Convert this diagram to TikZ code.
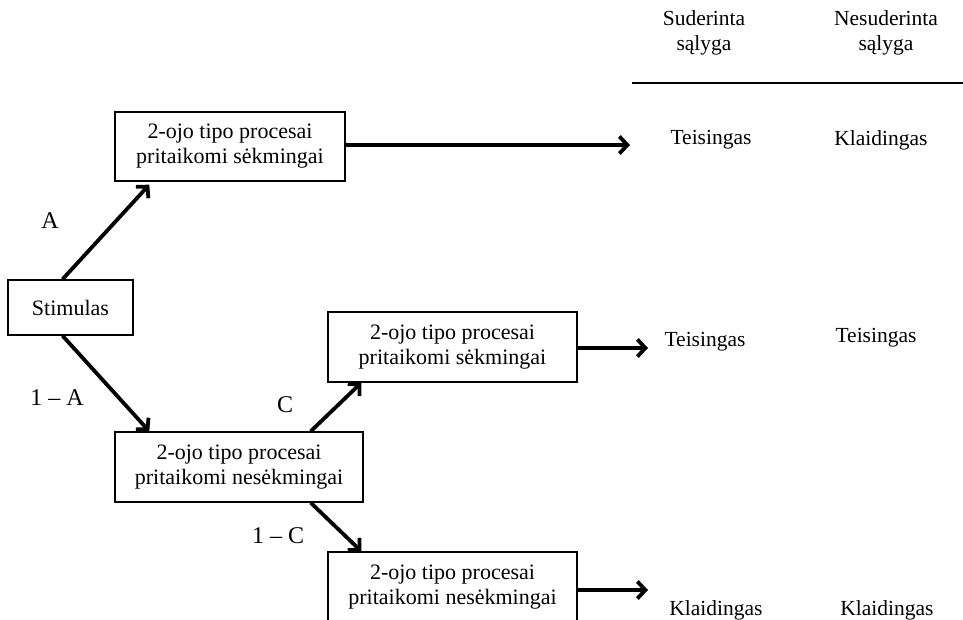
\documentclass[tikz,border=0pt]{standalone}
\usepackage{fontspec}
\setmainfont{Liberation Serif}
\usetikzlibrary{arrows.meta,calc}

\tikzset{
  procbox/.style={draw, line width=1.4pt, inner sep=0pt, align=center,
    font=\fontsize{22}{25}\selectfont},
  plain/.style={inner sep=0pt, align=center, font=\fontsize{21.5}{25}\selectfont},
  problabel/.style={inner sep=0pt, font=\fontsize{24}{26}\selectfont},
  flow/.style={line width=3.8pt, -{Straight Barb[length=8pt,width=17pt]}},
}

\begin{document}
\begin{tikzpicture}[x=1pt, y=-1pt]
  \clip (0,0) rectangle (963,620);
  \fill[white] (0,0) rectangle (963,620);

  % decision boxes
  \node[procbox, minimum width=125pt, minimum height=55pt] (stim) at (70.5,307.5) {Stimulas};
  \node[procbox, minimum width=230pt, minimum height=69pt] (ok1) at (230,146.5)
    {2-ojo tipo procesai\\pritaikomi sėkmingai};
  \node[procbox, minimum width=248pt, minimum height=70pt] (fail1) at (239,467)
    {2-ojo tipo procesai\\pritaikomi nesėkmingai};
  \node[procbox, minimum width=249pt, minimum height=70pt] (ok2) at (452.5,347)
    {2-ojo tipo procesai\\pritaikomi sėkmingai};
  \node[procbox, minimum width=249pt, minimum height=70pt] (fail2) at (452.5,587)
    {2-ojo tipo procesai\\pritaikomi nesėkmingai};

  % table of outcomes
  \node[plain] (hcong) at (704,33) {Suderinta\\sąlyga};
  \node[plain] (hincong) at (886,33) {Nesuderinta\\sąlyga};
  \coordinate (rulel) at (632,83);
  \coordinate (ruler) at (963,83);
  \draw[line width=1.6pt] (rulel) -- (ruler);

  \node[plain] (r1a) at (711,140) {Teisingas};
  \node[plain] (r1b) at (881,140) {Klaidingas};
  \node[plain] (r2a) at (705,342) {Teisingas};
  \node[plain] (r2b) at (876,338) {Teisingas};
  \node[plain] (r3a) at (716,610) {Klaidingas};
  \node[plain] (r3b) at (887,610) {Klaidingas};

  % branch probabilities
  \node[problabel] (pa) at (50,221) {A};
  \node[problabel] (pna) at (57,398) {1 – A};
  \node[problabel] (pc) at (285,405) {C};
  \node[problabel] (pnc) at (278,536) {1 – C};

  % arrow end points
  \coordinate (e1) at (630,145);
  \coordinate (e2) at (648,348);
  \coordinate (e3) at (648,590);

  % connectors
  \draw[flow] ($(stim.north)+(-8,0)$) -- ($(ok1.south west)+(35,3)$);
  \draw[flow] ($(stim.south)+(-8,0)$) -- ($(fail1.north west)+(35,0)$);
  \draw[flow] ($(fail1.north east)+(-53,0)$) -- ($(ok2.south west)+(34,0)$);
  \draw[flow] ($(fail1.south east)+(-53,0)$) -- ($(fail2.north west)+(34,0)$);
  \draw[flow] (ok1.east |- e1) -- (e1);
  \draw[flow] (ok2.east |- e2) -- (e2);
  \draw[flow] (fail2.east |- e3) -- (e3);
\end{tikzpicture}
\end{document}
